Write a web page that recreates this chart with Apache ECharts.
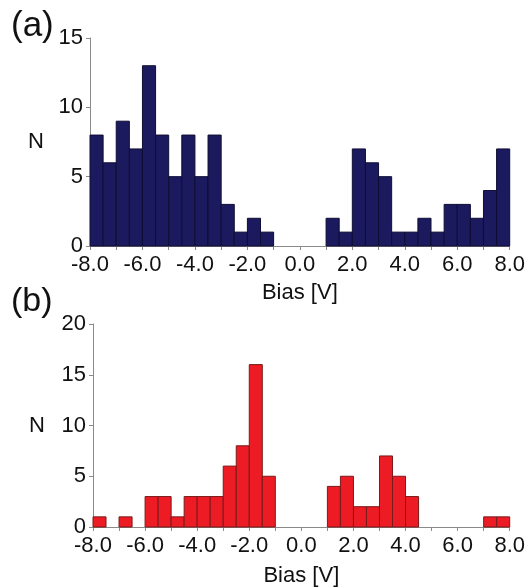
<!DOCTYPE html>
<html><head><meta charset="utf-8">
<script src="https://cdn.jsdelivr.net/npm/echarts@6/dist/echarts.min.js"></script>
<style>html,body{margin:0;padding:0;background:#fff}#c{width:528px;height:588px}</style>
</head><body><div id="c"></div>
<script>
var binStart = -8.0;
var binWidth = 0.5;
var countsA = [8,6,9,7,13,8,5,8,5,8,3,1,2,1,0,0,0,0,2,1,7,6,5,1,1,2,1,3,3,2,4,7];
var countsB = [1,0,1,0,3,3,1,3,3,3,6,8,16,5,0,0,0,0,4,5,2,2,7,5,3,0,0,0,0,0,1,1];
var yMaxA = 15, yMaxB = 20;
var xLabel = 'Bias [V]';
var yLabel = 'N';

function toBins(counts){
  return counts.map(function(c,i){ var x0 = binStart + i*binWidth; return [x0, x0+binWidth, c]; });
}
function renderHist(params, api){
  var x0 = api.value(0), x1 = api.value(1), c = api.value(2);
  if (!c) return null;
  var p0 = api.coord([x0, 0]), p1 = api.coord([x1, c]);
  return {type:'rect', shape:{x:p0[0], y:p1[1], width:p1[0]-p0[0], height:p0[1]-p1[1]}, style:api.style()};
}
var font = 'Liberation Sans, Arial, sans-serif';
function xAxis(gi){
  return {gridIndex:gi, type:'value', min:-8, max:8, interval:1,
    axisLine:{onZero:false, lineStyle:{color:'#8a8a8a', width:1}},
    axisTick:{show:true, length:4, lineStyle:{color:'#8a8a8a'}},
    splitLine:{show:false},
    axisLabel:{color:'#111', fontSize:22, fontFamily:font, margin:8,
      formatter:function(v){ return (Math.round(v)%2===0) ? v.toFixed(1) : ''; }},
    name:xLabel, nameLocation:'middle', nameGap:gi===0?36:38,
    nameTextStyle:{color:'#111', fontSize:22, fontFamily:font}};
}
function yAxis(gi, max){
  return {gridIndex:gi, type:'value', min:0, max:max, interval:5,
    axisLine:{show:true, onZero:false, lineStyle:{color:'#8a8a8a', width:1}},
    axisTick:{show:true, length:4, lineStyle:{color:'#8a8a8a'}},
    splitLine:{show:false},
    axisLabel:{color:'#111', fontSize:22, fontFamily:font, margin:7},
    name:yLabel, nameLocation:'middle', nameRotate:0, nameGap:gi===0?46:48,
    nameTextStyle:{color:'#111', fontSize:22, fontFamily:font, padding:gi===0?[0,0,16,0]:[0,0,0,0]}};
}
var chart = echarts.init(document.getElementById('c'), null, {renderer:'canvas'});
chart.setOption({
  animation:false,
  backgroundColor:'#fff',
  grid:[
    {left:90, right:18, top:38, bottom:342, containLabel:false},
    {left:93, right:18, top:324, bottom:59, containLabel:false}
  ],
  xAxis:[xAxis(0), xAxis(1)],
  yAxis:[yAxis(0, yMaxA), yAxis(1, yMaxB)],
  graphic:[
    {type:'text', left:11, top:9, style:{text:'(a)', fontSize:35, fontFamily:font, fill:'#111'}},
    {type:'text', left:11, top:285, style:{text:'(b)', fontSize:34, fontFamily:font, fill:'#111'}}
  ],
  series:[
    {type:'custom', xAxisIndex:0, yAxisIndex:0, renderItem:renderHist,
     encode:{x:[0,1], y:2}, data:toBins(countsA),
     itemStyle:{color:'#1c1a5e', borderColor:'#0e0d33', borderWidth:1}},
    {type:'custom', xAxisIndex:1, yAxisIndex:1, renderItem:renderHist,
     encode:{x:[0,1], y:2}, data:toBins(countsB),
     itemStyle:{color:'#ed1c24', borderColor:'#7a1a1a', borderWidth:1}}
  ]
});
</script></body></html>
